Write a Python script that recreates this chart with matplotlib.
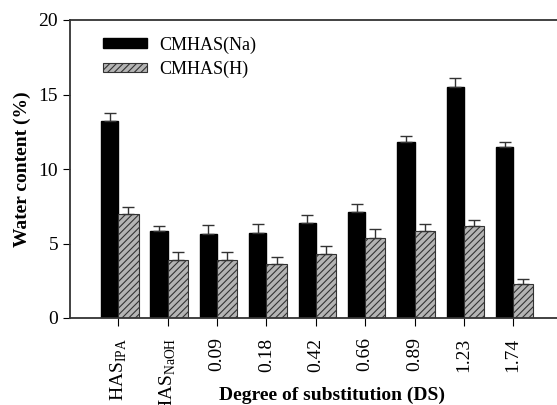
import matplotlib
matplotlib.use("Agg")
import matplotlib.pyplot as plt
import numpy as np

# data
labels = [r"HAS$_{\mathregular{IPA}}$", r"HAS$_{\mathregular{NaOH}}$",
          "0.09", "0.18", "0.42", "0.66", "0.89", "1.23", "1.74"]
na_vals = [13.25, 5.85, 5.65, 5.7, 6.4, 7.1, 11.8, 15.5, 11.45]
na_err = [0.5, 0.3, 0.6, 0.6, 0.5, 0.55, 0.4, 0.6, 0.35]
h_vals = [6.95, 3.9, 3.9, 3.6, 4.3, 5.4, 5.85, 6.2, 2.25]
h_err = [0.5, 0.5, 0.55, 0.5, 0.55, 0.55, 0.45, 0.35, 0.4]

plt.rcParams["font.family"] = ["Liberation Serif", "DejaVu Serif"]
plt.rcParams["mathtext.fontset"] = "custom"
plt.rcParams["mathtext.rm"] = "Liberation Serif"
plt.rcParams["hatch.color"] = "#333333"
plt.rcParams["hatch.linewidth"] = 0.8

W, H = 557, 405
fig = plt.figure(figsize=(W / 100, H / 100), dpi=100)
ax = fig.add_axes([70 / W, 1 - 318 / H, 1 - 70 / W + 0.01, 298 / H])

x = np.arange(len(labels))
wn, wh = 0.35, 0.41
ax.bar(x - wn / 2, na_vals, wn, color="black", edgecolor="black",
       yerr=[np.zeros(len(na_err)), na_err], capsize=4,
       error_kw=dict(ecolor="#333333", elinewidth=1, capthick=1),
       label="CMHAS(Na)")
ax.bar(x + wh / 2, h_vals, wh, color="#b4b4b4", edgecolor="#333333",
       linewidth=0.8, hatch="/////",
       yerr=[np.zeros(len(h_err)), h_err], capsize=4,
       error_kw=dict(ecolor="#333333", elinewidth=1, capthick=1),
       label="CMHAS(H)")

ax.set_xlim(-0.98, 9.0)
ax.set_ylim(0, 20)
ax.set_yticks([0, 5, 10, 15, 20])
ax.set_xticks(x)
ax.set_xticklabels(labels, rotation=90, fontsize=14)
ax.tick_params(axis="y", labelsize=14, direction="out", length=5)
ax.tick_params(axis="x", direction="out", length=6, pad=8)
for s in ax.spines.values():
    s.set_color("#333333")
    s.set_linewidth(1.3)
ax.spines["right"].set_visible(False)

ax.set_ylabel("Water content (%)", fontsize=14, fontweight="bold")
ax.yaxis.set_label_coords((31 - 70) / W / ax.get_position().width, 0.5)
ax.set_xlabel("Degree of substitution (DS)", fontsize=14, fontweight="bold",
              va="center")
ax.xaxis.set_label_coords((332 - 70) / W / ax.get_position().width,
                          -(395 - 318) / 298)

ax.legend(loc="upper left", bbox_to_anchor=(0.035, 1.0), frameon=False,
          fontsize=13, handlelength=2.4, handleheight=0.4, labelspacing=0.4,
          handletextpad=0.7)

fig.savefig("out.png", dpi=100)
